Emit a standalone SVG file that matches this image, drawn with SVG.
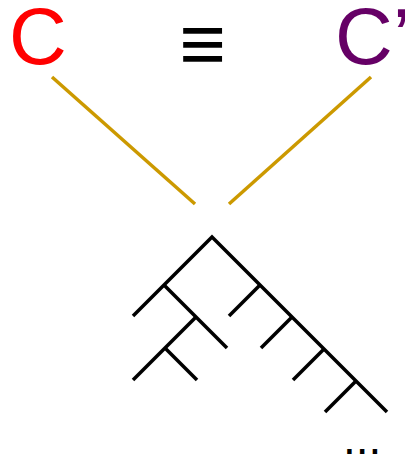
<svg xmlns="http://www.w3.org/2000/svg" width="405" height="458" viewBox="0 0 405 458">
<style>
text{font-family:"Liberation Sans",Arial,sans-serif;font-size:80px}
.gold{stroke:#cc9900;stroke-width:3.5;fill:none}
.tree{stroke:#000;stroke-width:3.5;fill:none}
</style>
<rect width="405" height="458" fill="#fff"/>
<g id="C"><text x="9" y="64" fill="#ff0000">C</text></g>
<g id="equiv"><text x="202.5" y="71" text-anchor="middle" fill="#000">≡</text></g>
<g id="Cprime"><text x="335" y="64" fill="#660066">C’</text></g>
<g id="connectors">
<line class="gold" x1="52" y1="77" x2="195" y2="204"/>
<line class="gold" x1="371" y1="77" x2="229" y2="204"/>
</g>
<g id="tree">
<polyline class="tree" points="133,316 212,237 387,412"/>
<line class="tree" x1="164" y1="285" x2="227" y2="348"/>
<line class="tree" x1="196" y1="317" x2="133" y2="380"/>
<line class="tree" x1="165" y1="348" x2="197" y2="380"/>
<line class="tree" x1="260" y1="285" x2="229" y2="316"/>
<line class="tree" x1="292" y1="317" x2="261" y2="348"/>
<line class="tree" x1="324" y1="349" x2="293" y2="380"/>
<line class="tree" x1="356" y1="381" x2="325" y2="412"/>
</g>
<g id="ellipsis"><text x="343" y="454" style="font-size:46px" fill="#000">...</text></g>
</svg>
